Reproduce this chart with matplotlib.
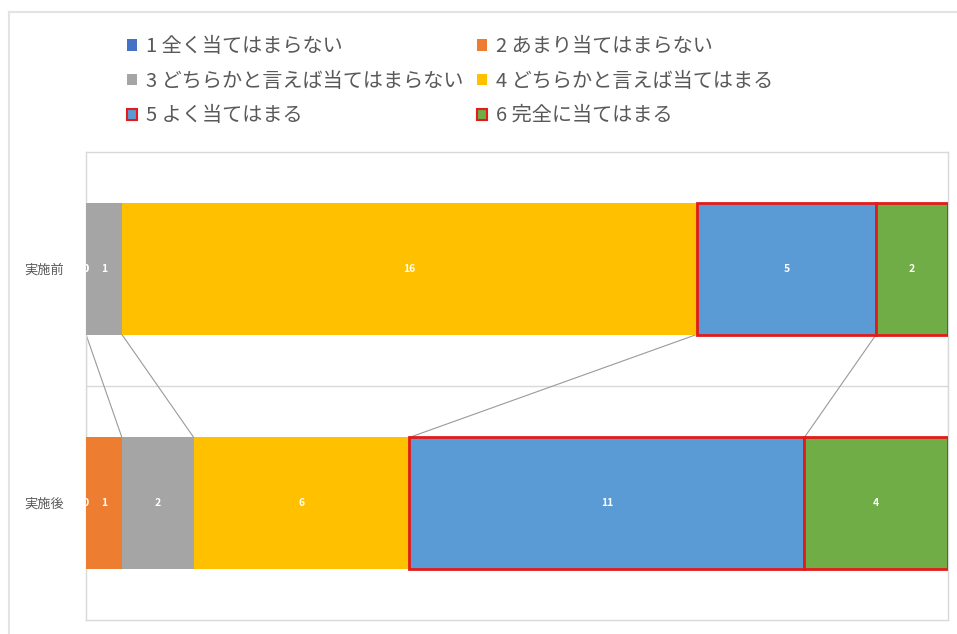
import numpy as np
import matplotlib.pyplot as plt
from matplotlib.patches import Patch
from matplotlib.lines import Line2D

plt.rcParams['font.family'] = ['Noto Sans CJK JP', 'DejaVu Sans']

# Survey answers, before / after
groups = ['実施前', '実施後']
answers = ['1 全く当てはまらない', '2 あまり当てはまらない',
           '3 どちらかと言えば当てはまらない', '4 どちらかと言えば当てはまる',
           '5 よく当てはまる', '6 完全に当てはまる']
before = [0, 0, 1, 16, 5, 2]
after = [0, 1, 2, 6, 11, 4]

colors = ['#4472C4', '#ED7D31', '#A5A5A5', '#FFC000', '#5B9BD5', '#70AD47']
red = '#E31B1B'
outlined = [False, False, False, False, True, True]

counts = np.array([before, after])
fig = plt.figure(figsize=(9.57, 6.34), dpi=100)
ax = fig.add_axes([86 / 957, 14 / 634, 862 / 957, 468 / 634])

y = np.arange(len(groups))
h = 0.56
left = np.zeros(len(groups))
for i in range(len(answers)):
    vals = counts[:, i]
    ec = red if outlined[i] else 'none'
    bars = ax.barh(y, vals, left=left, height=h, color=colors[i],
                   edgecolor=ec, linewidth=2.0 if outlined[i] else 0, zorder=3)
    for b, v in zip(bars, vals):
        ax.text(b.get_x() + b.get_width() / 2, b.get_y() + h / 2, str(v),
                ha='center', va='center', color='white', fontsize=7.5,
                fontweight='bold', zorder=5, clip_on=True)
    left = left + vals

# series lines between the two bars
cum = np.cumsum(counts, axis=1)
for i in range(len(answers)):
    ax.plot([cum[0, i], cum[1, i]], [h / 2, 1 - h / 2], color='#9a9a9a',
            linewidth=0.8, zorder=2)

ax.set_xlim(0, counts[0].sum())
ax.set_ylim(1.5, -0.5)
ax.axhline(0.5, color='#d9d9d9', linewidth=1, zorder=1)
ax.set_xticks([])
ax.set_yticks(y)
ax.set_yticklabels(groups, fontsize=9.5, color='#595959')
ax.tick_params(axis='y', length=0, pad=16)
for s in ax.spines.values():
    s.set_color('#d9d9d9')
    s.set_linewidth(1)

# legend, filled column by column
order = [0, 2, 4, 1, 3, 5]
handles = [Patch(facecolor=colors[i], edgecolor=red if outlined[i] else colors[i],
                 linewidth=1.5 if outlined[i] else 0, label=answers[i]) for i in order]
fig.legend(handles=handles, ncol=2, loc='upper left',
           bbox_to_anchor=(117 / 957, 1 - 26 / 634), frameon=False,
           fontsize=14.5, labelcolor='#595959', handlelength=0.5,
           handleheight=0.5, handletextpad=0.45, columnspacing=0.65,
           labelspacing=0.68, borderpad=0)

# chart border
fig.add_artist(Line2D([9 / 957, 1], [1 - 12 / 634] * 2, color='#e3e3e3', lw=1.5))
fig.add_artist(Line2D([9 / 957] * 2, [0, 1 - 12 / 634], color='#e3e3e3', lw=1.5))

fig.savefig('out.png', dpi=100)
